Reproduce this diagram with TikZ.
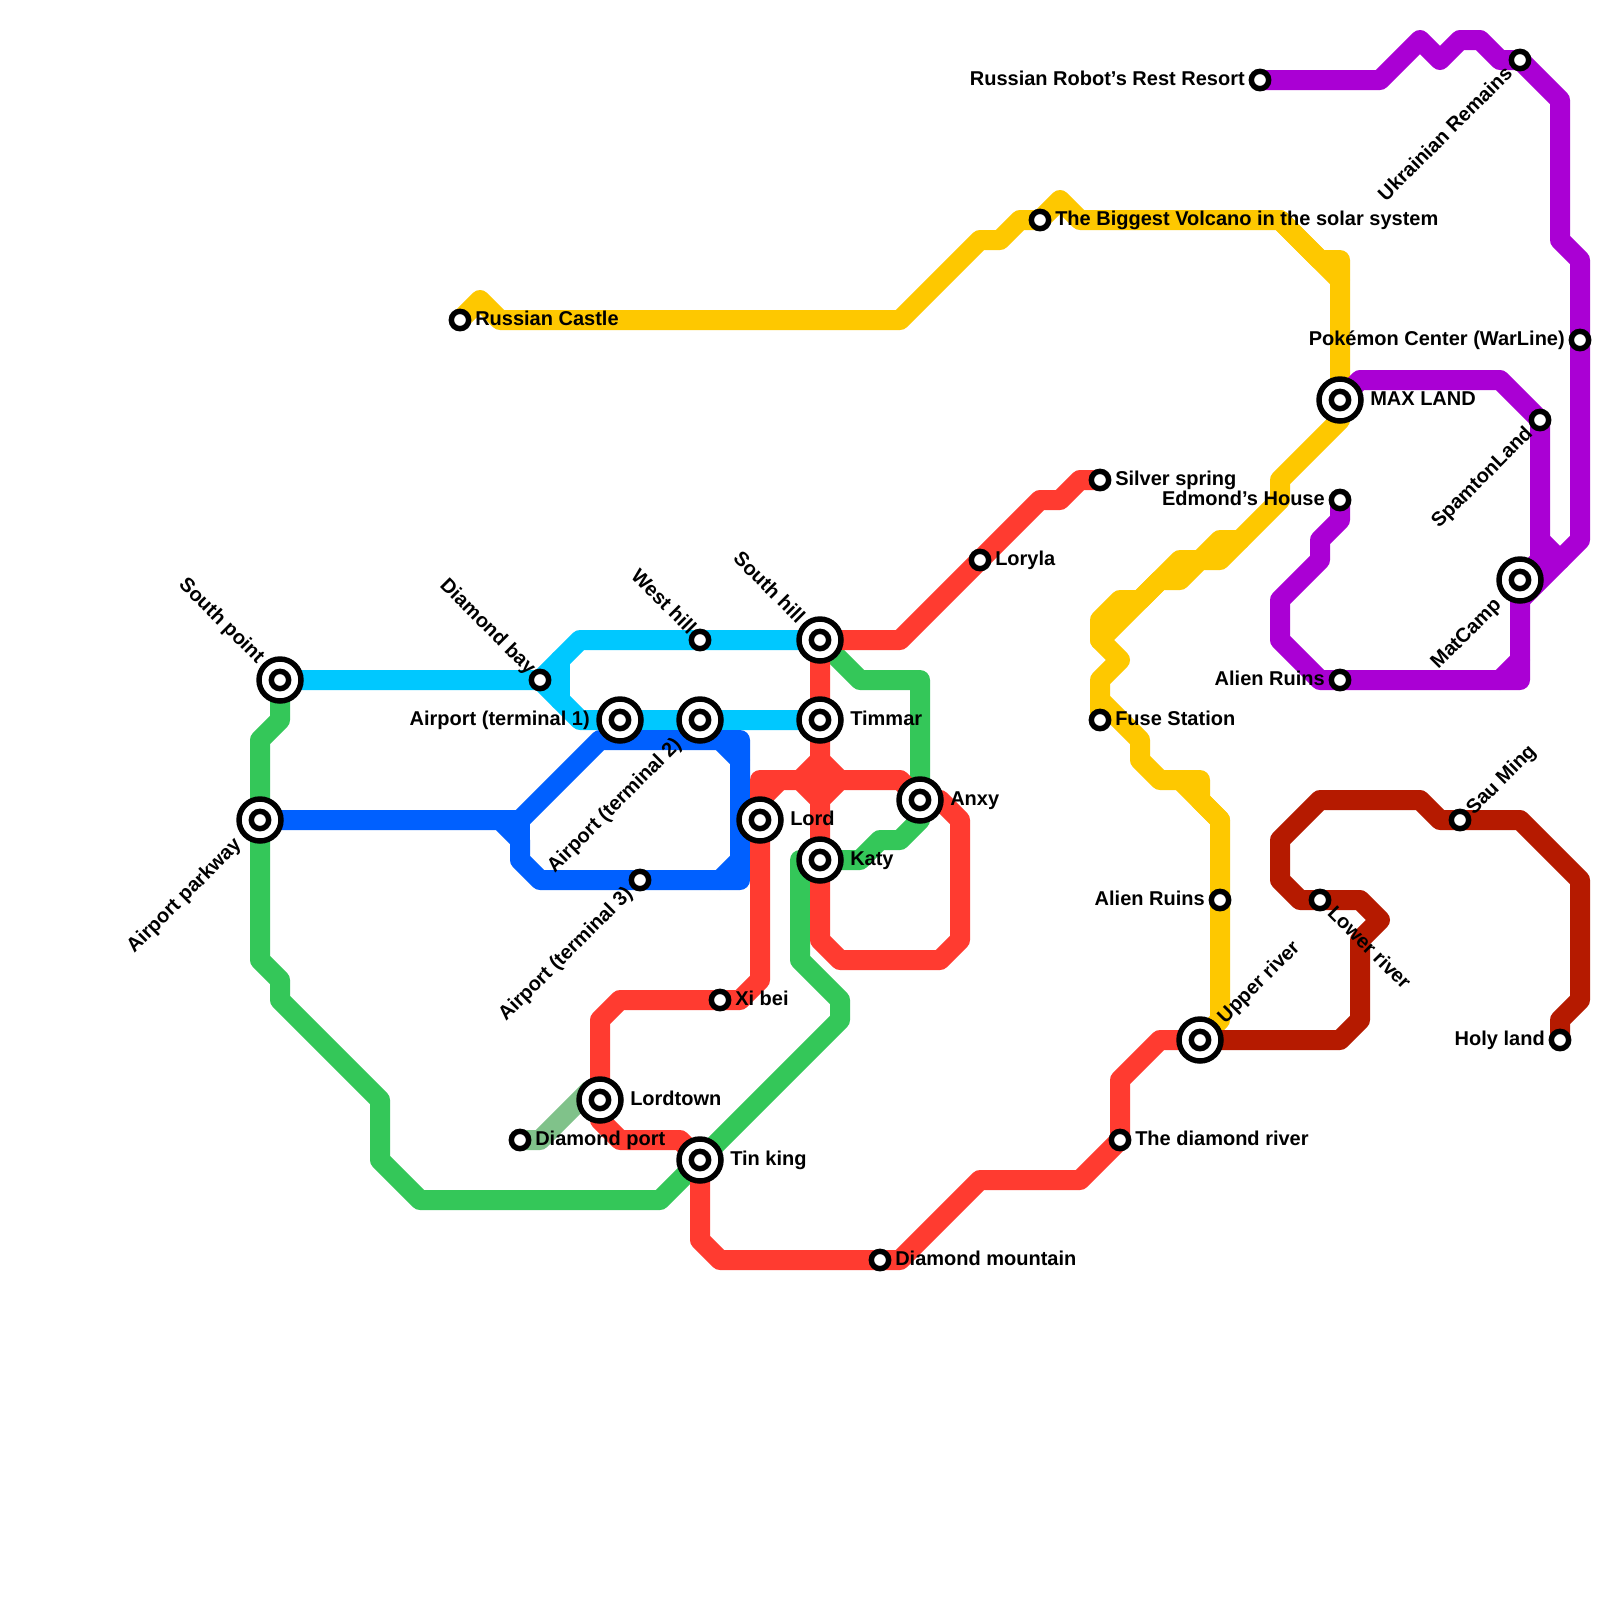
\documentclass[tikz,border=0pt]{standalone}
\usepackage{fontspec}
\setmainfont{Liberation Sans}
\usetikzlibrary{calc}
\definecolor{lcyan}{RGB}{0,200,255}
\definecolor{lblue}{RGB}{0,96,255}
\definecolor{lred}{RGB}{255,59,48}
\definecolor{lgreen}{RGB}{52,199,89}
\definecolor{lfade}{RGB}{128,194,138}
\definecolor{lyellow}{RGB}{254,200,0}
\definecolor{lpurple}{RGB}{170,0,212}
\definecolor{ldark}{RGB}{181,26,0}
\tikzset{
  metro/.style={line width=15pt,line join=round,line cap=round},
  stop/.style={circle,draw=black,fill=white,line width=4.1pt,minimum size=13pt,inner sep=0pt,outer sep=0pt},
  hubring/.style={circle,draw=black,fill=white,line width=4.1pt,minimum size=31.5pt,inner sep=0pt,outer sep=0pt},
  lab/.style={font=\bfseries\fontsize{15}{18}\selectfont,inner sep=0pt,text=black},
  rt/.style={lab,anchor=base west},
  lt/.style={lab,anchor=base east},
  upend/.style={lab,rotate=45,anchor=base east},
  upstart/.style={lab,rotate=45,anchor=base west},
  dnend/.style={lab,rotate=-45,anchor=base east},
  dnstart/.style={lab,rotate=-45,anchor=base west},
}
\newcommand{\hubmark}[1]{\node[hubring] (#1Ring) at (#1) {};\node[stop] (#1Dot) at (#1) {};}
\newcommand{\stopmark}[1]{\node[stop] (#1Dot) at (#1) {};}
\begin{document}
\begin{tikzpicture}[x=0.75pt,y=-0.75pt]
\useasboundingbox (0,0) rectangle (1600,1600);
\fill[white] (0,0) rectangle (1600,1600);
% stations
\foreach \n/\x/\y in {rc/460/320,big/1040/220,robot/1260/80,ukr/1520/60,poke/1580/340,max/1340/400,spam/1540/420,edm/1340/500,silver/1100/480,lory/980/560,shill/820/640,whill/700/640,dbay/540/680,spoint/280/680,tone/620/720,ttwo/700/720,timmar/820/720,aru/1340/680,mat/1520/580,fuse/1100/720,anxy/920/800,lord/760/820,park/260/820,tthree/640/880,katy/820/860,arub/1220/900,lowr/1320/900,sau/1460/820,xibei/720/1000,ur/1200/1040,holy/1560/1040,ltown/600/1100,dport/520/1140,tin/700/1160,drive/1120/1140,dmount/880/1260}
  {\coordinate (\n) at (\x,\y);}
\coordinate (fadeEnd) at (590,1090);
% green
\draw[metro,lgreen] (spoint) -- (280,720) -- (260,740) -- (park) -- (260,960) -- (280,980) -- (280,1000) -- (380,1100) -- (380,1160) -- (420,1200) -- (660,1200) -- (tin) -- (840,1020) -- (840,1000) -- (800,960) -- (800,860) -- (katy) -- (860,860) -- (880,840) -- (900,840) -- (920,820) -- (anxy) -- (920,680) -- (860,680) -- (shill);
% faded green
\draw[metro,lfade] (dport) -- (540,1140) -- (fadeEnd);
% yellow
\draw[metro,lyellow] (rc) -- (480,300) -- (500,320) -- (900,320) -- (980,240) -- (1000,240) -- (1020,220) -- (big) -- (1060,200) -- (1080,220) -- (1280,220) -- (1320,260) -- (1340,260) -- (max) -- (1340,420) -- (1280,480) -- (1280,500) -- (1220,560) -- (1200,560) -- (1180,580) -- (1160,580) -- (1100,640) -- (1120,660) -- (1100,680) -- (fuse) -- (1100,700) -- (1140,740) -- (1140,760) -- (1160,780) -- (1200,780) -- (1200,800) -- (1220,820) -- (arub) -- (1220,1020) -- (ur);
\draw[metro,lyellow] (1280,220) -- (1340,280);
\draw[metro,lyellow] (1180,780) -- (1220,820);
\draw[metro,lyellow] (1240,540) -- (1220,540) -- (1200,560) -- (1180,560) -- (1140,600) -- (1120,600) -- (1100,620) -- (1100,640);
% cyan
\draw[metro,lcyan] (spoint) -- (dbay) -- (580,640) -- (whill) -- (shill);
\draw[metro,lcyan] (dbay) -- (580,720) -- (tone) -- (ttwo) -- (timmar);
\draw[metro,lcyan] (560,660) -- (560,700);
% blue
\draw[metro,lblue] (park) -- (520,820) -- (600,740) -- (740,740) -- (740,880) -- (tthree) -- (540,880) -- (520,860) -- (520,840) -- (500,820);
\draw[metro,lblue] (520,820) -- (520,840);
\draw[metro,lblue] (720,740) -- (740,760);
\draw[metro,lblue] (720,880) -- (740,860);
% red
\draw[metro,lred] (silver) -- (1080,480) -- (1060,500) -- (1040,500) -- (lory) -- (900,640) -- (shill) -- (timmar) -- (820,760) -- (840,780) -- (820,800) -- (katy) -- (820,940) -- (840,960) -- (940,960) -- (960,940) -- (960,820) -- (940,800) -- (anxy) -- (900,780) -- (760,780) -- (lord) -- (760,980) -- (740,1000) -- (xibei) -- (620,1000) -- (600,1020) -- (ltown) -- (600,1120) -- (620,1140) -- (680,1140) -- (tin) -- (700,1240) -- (720,1260) -- (dmount) -- (900,1260) -- (980,1180) -- (1080,1180) -- (drive) -- (1120,1080) -- (1160,1040) -- (ur);
\draw[metro,lred] (820,760) -- (800,780) -- (820,800) -- (820,760);
\draw[metro,lred] (760,800) -- (780,780);
% purple
\draw[metro,lpurple] (robot) -- (1380,80) -- (1420,40) -- (1440,60) -- (1460,40) -- (1480,40) -- (1500,60) -- (ukr) -- (1560,100) -- (1560,240) -- (1580,260) -- (poke) -- (1580,540) -- (1520,600);
\draw[metro,lpurple] (max) -- (1360,380) -- (1500,380) -- (spam) -- (1540,560) -- (mat) -- (1520,680) -- (aru) -- (1320,680) -- (1280,640) -- (1280,600) -- (1320,560) -- (1320,540) -- (1340,520) -- (edm);
\draw[metro,lpurple] (1540,540) -- (1560,560);
\draw[metro,lpurple] (1500,680) -- (1520,660);
% dark red
\draw[metro,ldark] (ur) -- (1340,1040) -- (1360,1020) -- (1360,940) -- (1380,920) -- (1360,900) -- (lowr) -- (1300,900) -- (1280,880) -- (1280,840) -- (1320,800) -- (1420,800) -- (1440,820) -- (sau) -- (1520,820) -- (1580,880) -- (1580,1000) -- (1560,1020) -- (holy);
% markers
\foreach \n in {max,shill,spoint,tone,ttwo,timmar,mat,anxy,lord,park,katy,ur,ltown,tin} {\hubmark{\n}}
\foreach \n in {rc,big,robot,ukr,poke,spam,edm,silver,lory,whill,dbay,aru,fuse,tthree,arub,lowr,sau,xibei,holy,dport,drive,dmount} {\stopmark{\n}}
% labels
\node[rt] (rcL) at ($(rc)+(15,5.5)$) {Russian Castle};
\node[rt] (bigL) at ($(big)+(15,5.5)$) {The Biggest Volcano in the solar system};
\node[lt] (robotL) at ($(robot)+(-15,5.5)$) {Russian Robot’s Rest Resort};
\node[lt] (pokeL) at ($(poke)+(-15,5.5)$) {Pokémon Center (WarLine)};
\node[rt] (maxL) at ($(max)+(30,5.5)$) {MAX LAND};
\node[rt] (silverL) at ($(silver)+(15,5.5)$) {Silver spring};
\node[lt] (edmL) at ($(edm)+(-15,5.5)$) {Edmond’s House};
\node[lt] (aruL) at ($(aru)+(-15,5.5)$) {Alien Ruins};
\node[rt] (fuseL) at ($(fuse)+(15,5.5)$) {Fuse Station};
\node[rt] (loryL) at ($(lory)+(15,5.5)$) {Loryla};
\node[rt] (anxyL) at ($(anxy)+(30,5.5)$) {Anxy};
\node[rt] (lordL) at ($(lord)+(30,5.5)$) {Lord};
\node[rt] (katyL) at ($(katy)+(30,5.5)$) {Katy};
\node[rt] (timmarL) at ($(timmar)+(30,5.5)$) {Timmar};
\node[lt] (toneL) at ($(tone)+(-30,5.5)$) {Airport (terminal 1)};
\node[lt] (arubL) at ($(arub)+(-15,5.5)$) {Alien Ruins};
\node[rt] (xibeiL) at ($(xibei)+(15,5.5)$) {Xi bei};
\node[rt] (ltownL) at ($(ltown)+(30,5.5)$) {Lordtown};
\node[rt] (dportL) at ($(dport)+(15,5.5)$) {Diamond port};
\node[rt] (tinL) at ($(tin)+(30,5.5)$) {Tin king};
\node[rt] (dmountL) at ($(dmount)+(15,5.5)$) {Diamond mountain};
\node[rt] (driveL) at ($(drive)+(15,5.5)$) {The diamond river};
\node[lt] (holyL) at ($(holy)+(-15,5.5)$) {Holy land};
\node[dnend] (spointL) at ($(spoint)+(-23.1,-15.7)$) {South point};
\node[dnend] (dbayL) at ($(dbay)+(-11.8,-4.4)$) {Diamond bay};
\node[dnend] (whillL) at ($(whill)+(-11.8,-4.4)$) {West hill};
\node[dnend] (shillL) at ($(shill)+(-23.1,-15.7)$) {South hill};
\node[upend] (parkL) at ($(park)+(-17.7,25.8)$) {Airport parkway};
\node[upend] (ttwoL) at ($(ttwo)+(-17.7,25.8)$) {Airport (terminal 2)};
\node[upend] (tthreeL) at ($(tthree)+(-6.4,14.5)$) {Airport (terminal 3)};
\node[upend] (ukrL) at ($(ukr)+(-6.4,14.5)$) {Ukrainian Remains};
\node[upend] (spamL) at ($(spam)+(-6.4,14.5)$) {SpamtonLand};
\node[upend] (matL) at ($(mat)+(-17.7,25.8)$) {MatCamp};
\node[upstart] (urL) at ($(ur)+(25.1,-15.7)$) {Upper river};
\node[upstart] (sauL) at ($(sau)+(13.8,-4.4)$) {Sau Ming};
\node[dnstart] (lowrL) at ($(lowr)+(6.4,13.8)$) {Lower river};
\end{tikzpicture}
\end{document}
